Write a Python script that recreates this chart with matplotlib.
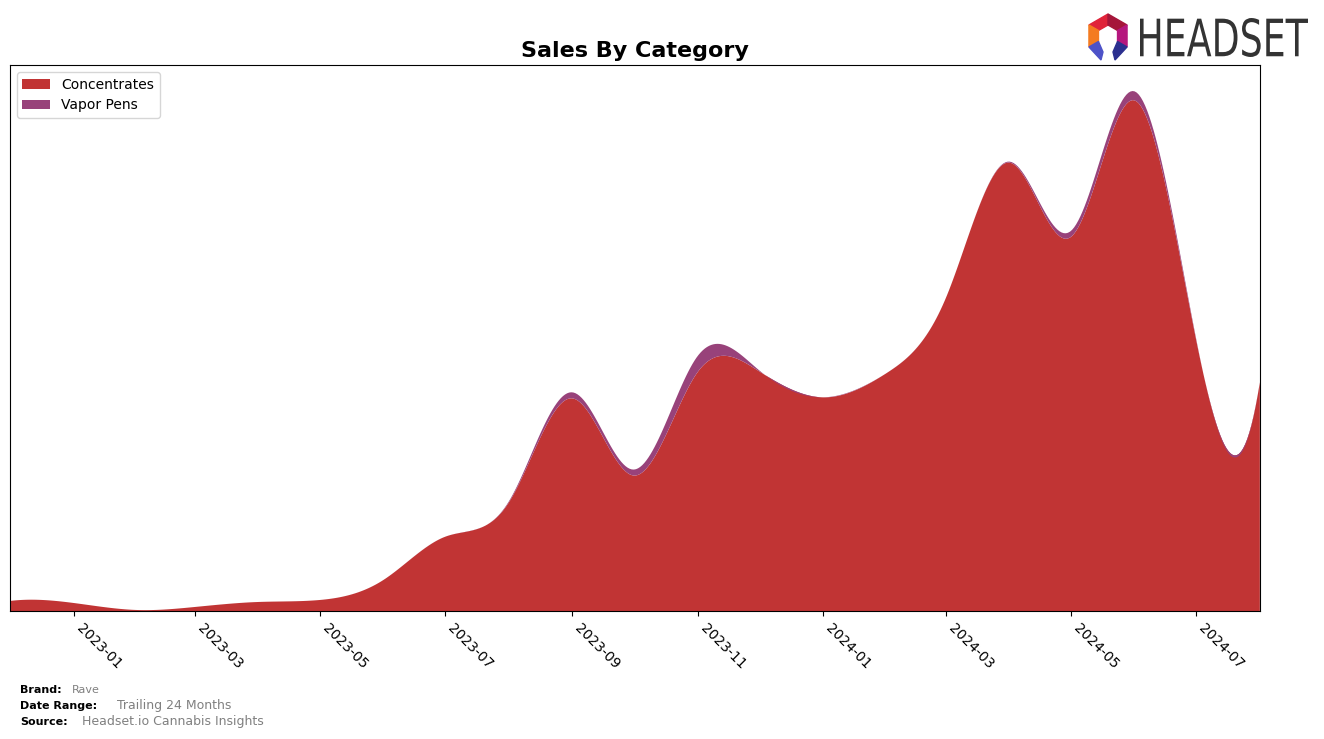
import numpy as np
import pandas as pd
import matplotlib
matplotlib.use("Agg")
import matplotlib.pyplot as plt
import matplotlib.dates as mdates
from matplotlib.patches import Polygon, PathPatch
from matplotlib.textpath import TextPath
from matplotlib.font_manager import FontProperties
from matplotlib.transforms import Affine2D

# monthly sales (arbitrary units)
months = pd.date_range("2022-12-01", "2024-08-01", freq="MS")
concentrates = [10, 8, 1, 4, 9, 11, 31, 74, 108, 212, 135, 238, 239,
                213, 237, 312, 447, 373, 509, 270, 228]
vapor_pens = [0, 0, 0, 0, 0, 0, 0, 0, 1, 6, 6, 16, 1,
              0, 0, 0, 1, 6, 9, 1, 0]
categories = ["Concentrates", "Vapor Pens"]
colors = ["#c13434", "#98427a"]


def spline(x, y, xs):
    # not-a-knot cubic spline, same idea as make_interp_spline(k=3)
    x = np.asarray(x, float)
    y = np.asarray(y, float)
    n = len(x)
    h = np.diff(x)
    A = np.zeros((n, n))
    b = np.zeros(n)
    A[0, 0], A[0, 1], A[0, 2] = h[1], -(h[0] + h[1]), h[0]
    A[-1, -3], A[-1, -2], A[-1, -1] = h[-1], -(h[-2] + h[-1]), h[-2]
    for i in range(1, n - 1):
        A[i, i - 1] = h[i - 1]
        A[i, i] = 2 * (h[i - 1] + h[i])
        A[i, i + 1] = h[i]
        b[i] = 6 * ((y[i + 1] - y[i]) / h[i] - (y[i] - y[i - 1]) / h[i - 1])
    M = np.linalg.solve(A, b)
    idx = np.clip(np.searchsorted(x, xs) - 1, 0, n - 2)
    x0, x1 = x[idx], x[idx + 1]
    hh = x1 - x0
    t0, t1 = x1 - xs, xs - x0
    return (M[idx] * t0**3 / (6 * hh) + M[idx + 1] * t1**3 / (6 * hh)
            + (y[idx] / hh - M[idx] * hh / 6) * t0
            + (y[idx + 1] / hh - M[idx + 1] * hh / 6) * t1)


xnum = mdates.date2num(months)
xs = np.linspace(xnum[0], xnum[-1], 600)
conc_s = spline(xnum, concentrates, xs)
vape_s = spline(xnum, vapor_pens, xs)

fig = plt.figure(figsize=(13.24, 7.39), dpi=100)
ax = fig.add_axes([0.00755, 0.1732, 0.9440, 0.7388])

ax.stackplot(xs, conc_s, vape_s, labels=categories, colors=colors)
ax.xaxis_date()
ax.set_xlim(xnum[0], xnum[-1])
ax.set_title("Sales By Category", fontsize=16, fontweight="bold")
ax.legend(loc="upper left")
ax.set_yticks([])
ax.xaxis.set_major_locator(mdates.MonthLocator(bymonth=[1, 3, 5, 7, 9, 11]))
ax.xaxis.set_major_formatter(mdates.DateFormatter("%Y-%m"))
plt.setp(ax.get_xticklabels(), rotation=-45, ha="left")

# footer
fig.text(0.015, 0.062, "Brand:", fontsize=8, fontweight="bold")
fig.text(0.054, 0.062, "Rave", fontsize=8, color="gray")
fig.text(0.015, 0.040, "Date Range:", fontsize=8, fontweight="bold")
fig.text(0.088, 0.040, "Trailing 24 Months", fontsize=9, color="gray")
fig.text(0.015, 0.019, "Source:", fontsize=8, fontweight="bold")
fig.text(0.062, 0.019, "Headset.io Cannabis Insights", fontsize=9, color="gray")

# logo (pixel coords, y from top)
W, H = 1324.0, 739.0


def px(pts):
    return [(x / W, 1 - y / H) for x, y in pts]


cx, cy, R, r = 1108.0, 36.0, 22.0, 11.0


def pt(a, rad):
    return (cx + rad * np.cos(np.radians(a)), cy - rad * np.sin(np.radians(a)))


segs = [
    (90, 150, "#e0233a"),
    (30, 90, "#a5163a"),
    (-30, 30, "#b5177e"),
    (150, 210, "#f47b20"),
]
for a0, a1, c in segs:
    poly = [pt(a0, R), pt(a1, R), pt(a1, r), pt(a0, r)]
    fig.patches.append(Polygon(px(poly), closed=True, color=c,
                               transform=fig.transFigure, figure=fig))
# legs
left_leg = [pt(210, R), pt(210, r), (cx - 5, cy + 16), (cx - 7, cy + 24)]
right_leg = [pt(-30, R), pt(-30, r), (cx + 5, cy + 16), (cx + 7, cy + 24)]
fig.patches.append(Polygon(px(left_leg), closed=True, color="#4d52c8",
                           transform=fig.transFigure, figure=fig))
fig.patches.append(Polygon(px(right_leg), closed=True, color="#2b2f8f",
                           transform=fig.transFigure, figure=fig))

tp = TextPath((0, 0), "HEADSET", size=10, prop=FontProperties(family="DejaVu Sans"))
ext = tp.get_extents()
sx = (168 / W) / ext.width
sy = (39 / H) / ext.height
tr = Affine2D().translate(-ext.x0, -ext.y0).scale(sx, sy).translate(1140 / W, 1 - 57 / H)
fig.patches.append(PathPatch(tp, color="#333333", lw=0,
                             transform=tr + fig.transFigure, figure=fig))

fig.savefig("out.png", dpi=100)
